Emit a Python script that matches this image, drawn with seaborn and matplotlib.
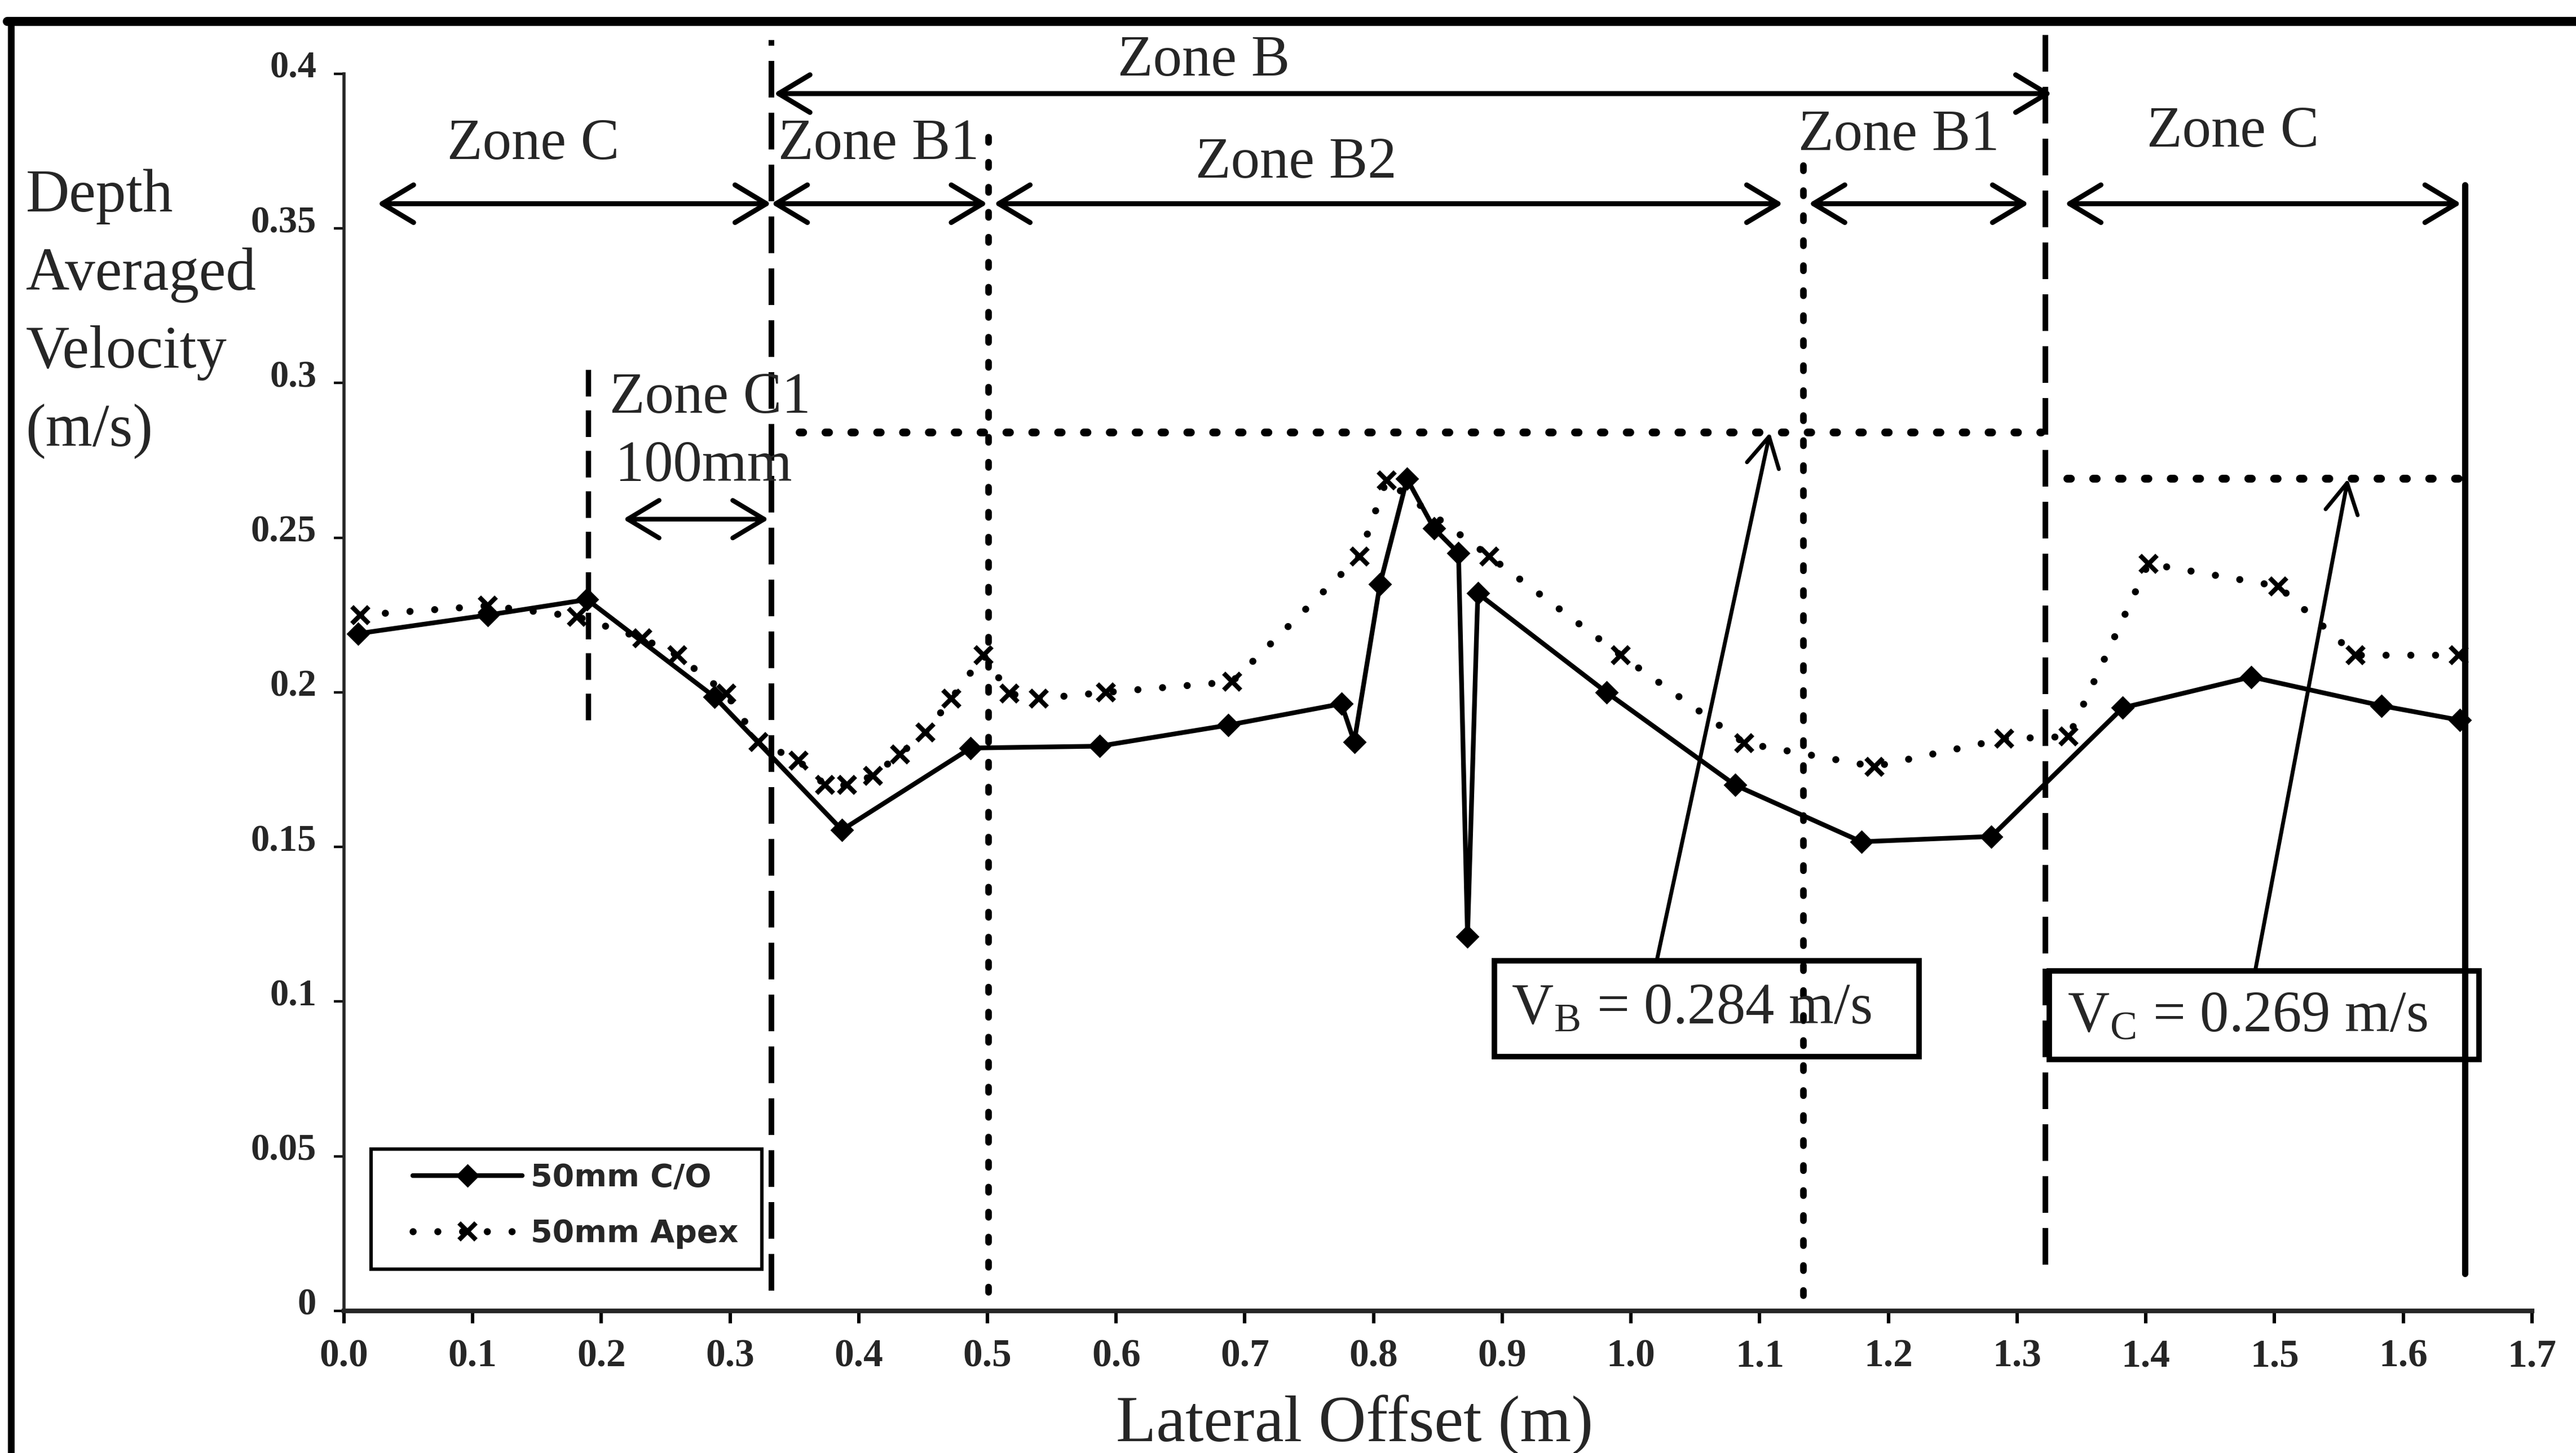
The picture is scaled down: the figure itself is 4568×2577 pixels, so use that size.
import matplotlib
matplotlib.use("Agg")
import matplotlib.pyplot as plt
import matplotlib.transforms as mtransforms
import seaborn as sns
import pandas as pd
from matplotlib.patches import Rectangle
from matplotlib.lines import Line2D

# ---------------------------------------------------------------------------
# Depth averaged velocity across the channel, 50mm C/O and 50mm Apex traverses
# ---------------------------------------------------------------------------
offset_co = [0.011, 0.112, 0.189, 0.288, 0.387, 0.487, 0.587, 0.687, 0.775,
             0.785, 0.805, 0.826, 0.847, 0.866, 0.873, 0.881, 0.981, 1.081,
             1.179, 1.280, 1.382, 1.482, 1.583, 1.644]
velocity_co = [0.219, 0.225, 0.230, 0.1985, 0.1555, 0.182, 0.1826, 0.1894,
               0.1963, 0.184, 0.235, 0.269, 0.253, 0.245, 0.121, 0.232, 0.200,
               0.170, 0.1517, 0.1534, 0.195, 0.205, 0.1957, 0.191]

offset_apex = [0.013, 0.112, 0.181, 0.232, 0.259, 0.297, 0.322, 0.353, 0.374,
               0.391, 0.411, 0.432, 0.452, 0.472, 0.497, 0.517, 0.540, 0.592,
               0.690, 0.789, 0.810, 0.890, 0.992, 1.088, 1.189, 1.290, 1.340,
               1.402, 1.503, 1.563, 1.643]
velocity_apex = [0.225, 0.228, 0.2245, 0.2174, 0.212, 0.1996, 0.184, 0.178,
                 0.170, 0.170, 0.173, 0.180, 0.187, 0.198, 0.212, 0.1996, 0.198,
                 0.200, 0.2034, 0.244, 0.2685, 0.244, 0.212, 0.1836, 0.176,
                 0.185, 0.1857, 0.2416, 0.2343, 0.212, 0.212]

series_labels = ["50mm C/O", "50mm Apex"]

# zone mean velocities
v_zone_b = 0.284
v_zone_c = 0.269

x_ticks = [round(0.1 * i, 1) for i in range(18)]
y_ticks = [0, 0.05, 0.1, 0.15, 0.2, 0.25, 0.3, 0.35, 0.4]
y_tick_labels = ["0", "0.05", "0.1", "0.15", "0.2", "0.25", "0.3", "0.35", "0.4"]

df_co = pd.DataFrame({"offset": offset_co, "velocity": velocity_co})
df_apex = pd.DataFrame({"offset": offset_apex, "velocity": velocity_apex})

# ---------------------------------------------------------------------------
sns.set_style("white")
plt.rcParams["font.family"] = ["Liberation Serif", "DejaVu Serif"]
plt.rcParams["mathtext.default"] = "regular"

fig = plt.figure(figsize=(22.84, 12.885), dpi=200)
ax = fig.add_axes([0.1335, 0.0978, 0.9829 - 0.1335, 0.9492 - 0.0978])

sns.lineplot(data=df_co, x="offset", y="velocity", ax=ax, estimator=None,
             sort=False, color="black", lw=3.0, marker="D", markersize=9.5,
             markeredgecolor="black", markeredgewidth=1.0,
             label=series_labels[0], legend=False)
line_co = ax.lines[-1]

sns.lineplot(data=df_apex, x="offset", y="velocity", ax=ax, estimator=None,
             sort=False, color="black", lw=4.5, linestyle=(0, (0.01, 3.5)),
             dash_capstyle="round", marker="x", markersize=10.5,
             markeredgecolor="black", markeredgewidth=3.0,
             label=series_labels[1], legend=False)
line_apex = ax.lines[-1]

ax.set_xlim(0, 1.7)
ax.set_ylim(0, 0.4)
sns.despine(ax=ax)
ax.spines["left"].set_linewidth(2.0)
ax.spines["bottom"].set_linewidth(3.0)

ax.set_xticks(x_ticks)
ax.set_xticklabels([f"{t:.1f}" for t in x_ticks])
ax.set_yticks(y_ticks)
ax.set_yticklabels(y_tick_labels)
ax.tick_params(axis="y", direction="out", length=6.5, width=1.6, pad=11,
               left=True, color="black")
ax.tick_params(axis="x", direction="out", length=8, width=2.2, pad=10,
               bottom=True, color="black")
lift = mtransforms.ScaledTranslation(0, 6 / 72, fig.dpi_scale_trans)
for lab in ax.get_yticklabels():
    lab.set_fontsize(24)
    lab.set_fontweight("bold")
    lab.set_transform(lab.get_transform() + lift)
for lab in ax.get_xticklabels():
    lab.set_fontsize(25)
    lab.set_fontweight("bold")

ax.set_xlabel("Lateral Offset (m)", fontsize=42, va="top")
ax.xaxis.set_label_coords(0.462, -0.068)
ax.set_ylabel("Depth\nAveraged\nVelocity\n(m/s)", fontsize=38.5, rotation=0,
              ha="left", va="top", multialignment="left", linespacing=1.54)
ax.yaxis.set_label_coords(-0.1454, 0.923)

# ---------------------------------------------------------------------------
# zone boundaries
def vline(x, y0, y1, **kw):
    ax.plot([x, x], [y0, y1], color="black", clip_on=False, **kw)

dashed = dict(lw=3.6, linestyle=(0, (6.5, 2.7)))
dotted_v = dict(lw=4.2, linestyle=(0, (0.8, 3.0)), dash_capstyle="round")
dotted_h = dict(lw=5.0, linestyle=(0, (0.45, 2.85)), dash_capstyle="round")

vline(0.190, 0.191, 0.308, lw=3.4, linestyle=(0, (5.0, 2.6)))
vline(0.332, 0.0065, 0.411, **dashed)
vline(0.501, 0.006, 0.384, **dotted_v)
vline(1.134, 0.005, 0.373, **dotted_v)
vline(1.322, 0.015, 0.415, **dashed)
vline(1.648, 0.012, 0.364, lw=4.0, solid_capstyle="round")

# zone mean velocity levels
ax.plot([0.354, 1.319], [v_zone_b, v_zone_b], color="black", **dotted_h)
ax.plot([1.339, 1.649], [v_zone_c, v_zone_c], color="black", **dotted_h)

# ---------------------------------------------------------------------------
# zone extent arrows
def span_arrow(x0, x1, y, lw=3.2):
    ax.annotate("", xy=(x1, y), xytext=(x0, y),
                arrowprops=dict(arrowstyle="<->,head_length=1.0,head_width=0.6",
                                lw=lw, color="black", shrinkA=0, shrinkB=0,
                                mutation_scale=20),
                annotation_clip=False)

y_top_arrow = 0.3936
y_zone_arrow = 0.358
span_arrow(0.334, 1.327, y_top_arrow)
span_arrow(0.026, 0.332, y_zone_arrow)
span_arrow(0.332, 0.500, y_zone_arrow)
span_arrow(0.505, 1.118, y_zone_arrow)
span_arrow(1.138, 1.309, y_zone_arrow)
span_arrow(1.337, 1.645, y_zone_arrow)
span_arrow(0.217, 0.330, 0.256, lw=3.0)

zone_fs = 37
ax.text(0.668, 0.404, "Zone B", fontsize=zone_fs, ha="center", va="center")
ax.text(0.147, 0.377, "Zone C", fontsize=zone_fs, ha="center", va="center")
ax.text(0.4155, 0.377, "Zone B1", fontsize=zone_fs, ha="center", va="center")
ax.text(0.740, 0.371, "Zone B2", fontsize=zone_fs, ha="center", va="center")
ax.text(1.208, 0.380, "Zone B1", fontsize=zone_fs, ha="center", va="center")
ax.text(1.4675, 0.381, "Zone C", fontsize=zone_fs, ha="center", va="center")
ax.text(0.2065, 0.295, "Zone C1", fontsize=zone_fs, ha="left", va="center")
ax.text(0.211, 0.273, "100mm", fontsize=zone_fs, ha="left", va="center")

# ---------------------------------------------------------------------------
# boxed zone velocity callouts
def callout(x0, x1, y0, y1, tx, ty, text, tip_from, tip_to):
    ax.add_patch(Rectangle((x0, y0), x1 - x0, y1 - y0, fill=False,
                           edgecolor="black", lw=3.5, zorder=4))
    ax.text(tx, ty, text, fontsize=zone_fs, ha="center", va="center", zorder=5)
    ax.annotate("", xy=tip_to, xytext=tip_from,
                arrowprops=dict(arrowstyle="->,head_length=0.95,head_width=0.52",
                                lw=2.5, color="black", shrinkA=0, shrinkB=0,
                                mutation_scale=20))

callout(0.894, 1.224, 0.0822, 0.1132, 1.047, 0.0975,
        r"V$_\mathregular{B}$ = 0.284 m/s", (1.020, 0.1132), (1.108, v_zone_b))
callout(1.325, 1.659, 0.0813, 0.110, 1.479, 0.0950,
        r"V$_\mathregular{C}$ = 0.269 m/s", (1.485, 0.110), (1.557, v_zone_c))

# ---------------------------------------------------------------------------
# legend
ax.add_patch(Rectangle((0.0124, 0.0337), 0.1786, 0.0973, transform=ax.transAxes,
                       fill=False, edgecolor="black", lw=2.2, clip_on=False))
ax.legend(handles=[line_co, line_apex], labels=series_labels,
          loc="center left", bbox_to_anchor=(0.0314, 0.0848),
          frameon=False, borderpad=0, borderaxespad=0, handlelength=3.5,
          handletextpad=0.26, labelspacing=0.8,
          prop=dict(family="DejaVu Sans", weight="bold", size=20))

# outer frame lines
fig.add_artist(Line2D([0.0028, 1.0], [0.9853, 0.9853], color="black", lw=5.8,
                      transform=fig.transFigure))
fig.add_artist(Line2D([0.0044, 0.0044], [0.0, 0.9853], color="black", lw=4.3,
                      transform=fig.transFigure))

fig.savefig("out.png", dpi=200, facecolor="white")
